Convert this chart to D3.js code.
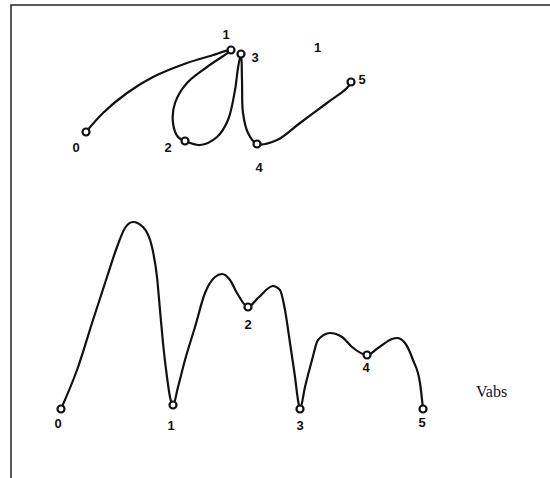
<!DOCTYPE html>
<html>
<head>
<meta charset="utf-8">
<script src="https://cdn.jsdelivr.net/npm/d3@7"></script>
<style>
  body { margin: 0; background: #fff; }
  svg { display: block; }
  .lbl { font-family: 'Liberation Sans', Arial, sans-serif; font-weight: bold; font-size: 13px; fill: #111; }
  .vabs { font-family: 'Liberation Serif', 'Times New Roman', serif; font-size: 16px; fill: #111; }
</style>
</head>
<body>
<svg></svg>
<script>
// knot labels
let knotNames = ['0', '1', '2', '3', '4', '5']

// upper panel: path in the plane (arbitrary units)
let pathX = [0, 17, 41, 67, 101, 124, 145, 121, 101, 89, 87, 92, 99, 114, 131, 142, 149, 152, 155, 156, 157, 162, 171, 191, 214, 241, 261, 265]
let pathY = [12, 31, 51, 67, 81, 88, 94, 77, 61, 41, 21, 7, 3, -1, 7, 24, 54, 76, 90, 64, 31, 11, 0, 4, 21, 41, 56, 62]
let knotX = [0, 145, 99, 155, 171, 265]
let knotY = [12, 94, 3, 90, 0, 62]

// lower panel: absolute speed along the path
let speedT = [0, 16, 32, 46, 56, 64, 72, 82, 91, 96, 99, 102, 106, 109, 112,
              117, 124, 134, 144, 154, 161, 169, 176, 187, 197, 212, 219, 224, 229, 234, 237, 239,
              244, 251, 257, 269, 281, 291, 306, 317, 331, 336, 344, 352, 359, 362]
let speedV = [0, 39, 89, 132, 162, 181, 187, 182, 162, 132, 99, 66, 32, 12, 4,
              22, 49, 82, 116, 132, 135, 129, 116, 102, 111, 123, 119, 99, 66, 32, 9, 0,
              22, 49, 69, 76, 72, 62, 54, 61, 70, 71, 66, 49, 26, 0]
let knotT = [0, 112, 187, 239, 306, 362]
let knotV = [0, 4, 102, 0, 54, 0]

let width = 550
let height = 478

let svg = d3.select('svg')
    .attr('width', width)
    .attr('height', height)

// frame (only top and left edges are visible in the scan)
svg.append('path')
   .attr('d', 'M11,' + height + ' L11,5 L' + width + ',5')
   .attr('fill', 'none')
   .attr('stroke', '#222')
   .attr('stroke-width', 1.5)

// scales
let xU = d3.scaleLinear().domain([0, 265]).range([86, 351])
let yU = d3.scaleLinear().domain([0, 100]).range([144, 44])
let xL = d3.scaleLinear().domain([0, 363]).range([61, 424])
let yL = d3.scaleLinear().domain([0, 190]).range([409, 219])

let upperPts = pathX.map((x, i) => [x, pathY[i]])
let lowerPts = speedT.map((t, i) => [t, speedV[i]])

let upperLine = d3.line()
    .x(d => xU(d[0]))
    .y(d => yU(d[1]))
    .curve(d3.curveCatmullRom.alpha(0.5))

let lowerLine = d3.line()
    .x(d => xL(d[0]))
    .y(d => yL(d[1]))
    .curve(d3.curveMonotoneX)

svg.append('path')
   .attr('d', upperLine(upperPts))
   .attr('fill', 'none')
   .attr('stroke', '#111')
   .attr('stroke-width', 2.2)

svg.append('path')
   .attr('d', lowerLine(lowerPts))
   .attr('fill', 'none')
   .attr('stroke', '#111')
   .attr('stroke-width', 2.2)

// knot markers
let drawKnots = (xs, ys, xs_, ys_) => {
    svg.append('g')
       .selectAll('circle')
       .data(xs)
       .enter()
       .append('circle')
       .attr('cx', (d) => xs_(d))
       .attr('cy', (d, i) => ys_(ys[i]))
       .attr('r', 3.5)
       .attr('fill', '#fff')
       .attr('stroke', '#111')
       .attr('stroke-width', 2.2)
}
drawKnots(knotX, knotY, xU, yU)
drawKnots(knotT, knotV, xL, yL)

// label offsets from each knot
let upperOff = [[-10, 20], [-5, -11], [-17, 11], [14, 8], [2, 28], [11, 2]]
let lowerOff = [[-3, 19], [-2, 25], [0, 22], [0, 21], [-1, 17], [-1, 18]]

svg.append('g')
   .selectAll('text')
   .data(knotNames)
   .enter()
   .append('text')
   .attr('class', 'lbl')
   .attr('text-anchor', 'middle')
   .attr('x', (d, i) => xU(knotX[i]) + upperOff[i][0])
   .attr('y', (d, i) => yU(knotY[i]) + upperOff[i][1])
   .text(d => d)

svg.append('g')
   .selectAll('text')
   .data(knotNames)
   .enter()
   .append('text')
   .attr('class', 'lbl')
   .attr('text-anchor', 'middle')
   .attr('x', (d, i) => xL(knotT[i]) + lowerOff[i][0])
   .attr('y', (d, i) => yL(knotV[i]) + lowerOff[i][1])
   .text(d => d)

// stray mark in the scan
svg.append('text')
   .attr('class', 'lbl')
   .attr('x', 314)
   .attr('y', 52)
   .text('1')

svg.append('text')
   .attr('class', 'vabs')
   .attr('x', 476)
   .attr('y', 397)
   .text('Vabs')
</script>
</body>
</html>
